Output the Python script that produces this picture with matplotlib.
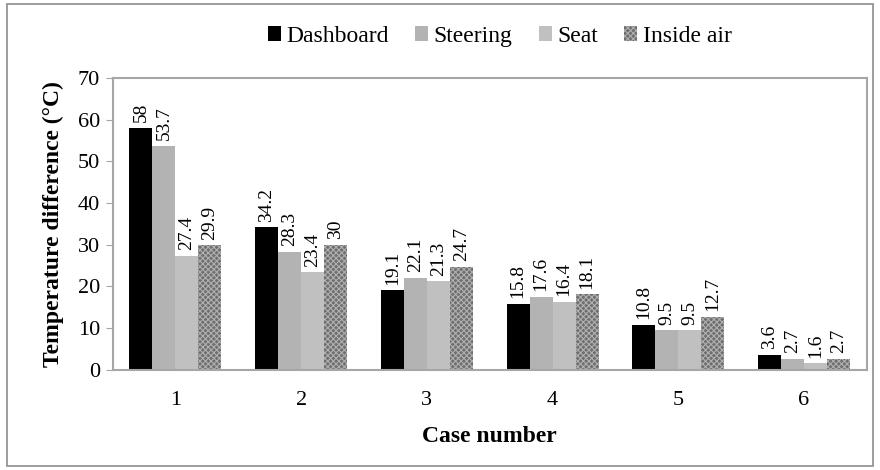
import numpy as np
import matplotlib.pyplot as plt
from matplotlib.patches import Rectangle

# ====== Data ======
CASES = ["1", "2", "3", "4", "5", "6"]
SERIES = ["Dashboard", "Steering", "Seat", "Inside air"]
DASHBOARD = [58, 34.2, 19.1, 15.8, 10.8, 3.6]
STEERING = [53.7, 28.3, 22.1, 17.6, 9.5, 2.7]
SEAT = [27.4, 23.4, 21.3, 16.4, 9.5, 1.6]
INSIDE_AIR = [29.9, 30, 24.7, 18.1, 12.7, 2.7]
LABELS = [
    ["58", "34.2", "19.1", "15.8", "10.8", "3.6"],
    ["53.7", "28.3", "22.1", "17.6", "9.5", "2.7"],
    ["27.4", "23.4", "21.3", "16.4", "9.5", "1.6"],
    ["29.9", "30", "24.7", "18.1", "12.7", "2.7"],
]

# ====== Style ======
plt.rcParams["font.family"] = ["Liberation Serif", "DejaVu Serif"]
plt.rcParams["hatch.linewidth"] = 0.8
BAR_W = 0.183
STYLES = [
    dict(color="#000000"),
    dict(color="#b3b3b3"),
    dict(color="#c0c0c0"),
    dict(facecolor="#6e6e6e", edgecolor="#b0b0b0", hatch="xxxxxx", linewidth=0),
]
GRAY = "#a6a6a6"

fig = plt.figure(figsize=(8.8, 4.7), dpi=100)
ax = fig.add_axes([0.128, 0.213, 0.857, 0.621])

x = np.arange(len(CASES))
values = [DASHBOARD, STEERING, SEAT, INSIDE_AIR]
offsets = (np.arange(4) - 1.5) * BAR_W

for i, (name, vals) in enumerate(zip(SERIES, values)):
    rects = ax.bar(x + offsets[i], vals, BAR_W, label=name, **STYLES[i])
    for rect, lab in zip(rects, LABELS[i]):
        ax.annotate(
            lab,
            xy=(rect.get_x() + rect.get_width() / 2, rect.get_height()),
            xytext=(0, 4),
            textcoords="offset points",
            ha="center",
            va="bottom",
            rotation=90,
            fontsize=14,
        )

ax.set_xlim(-0.5, len(CASES) - 0.5)
ax.set_ylim(0, 70)
ax.set_yticks(np.arange(0, 71, 10))
ax.set_xticks(x)
ax.set_xticklabels(CASES)
ax.tick_params(axis="x", length=0, pad=15, labelsize=16)
ax.tick_params(axis="y", length=5, color=GRAY, labelsize=16, pad=4)
for s in ax.spines.values():
    s.set_color(GRAY)
    s.set_linewidth(1.5)

ax.set_xlabel("Case number", fontsize=17, fontweight="bold", labelpad=12)
ax.set_ylabel("Temperature difference (°C)", fontsize=17, fontweight="bold", labelpad=10)

fig.legend(
    loc="upper center",
    bbox_to_anchor=(0.568, 0.99),
    ncol=4,
    frameon=False,
    fontsize=17,
    handlelength=0.55,
    handleheight=0.55,
    handletextpad=0.25,
    columnspacing=1.1,
)

fig.patches.append(
    Rectangle((0.008, 0.008), 0.984, 0.984, transform=fig.transFigure,
              fill=False, edgecolor="#8c8c8c", linewidth=1.2)
)

fig.savefig("out.png", dpi=100)
